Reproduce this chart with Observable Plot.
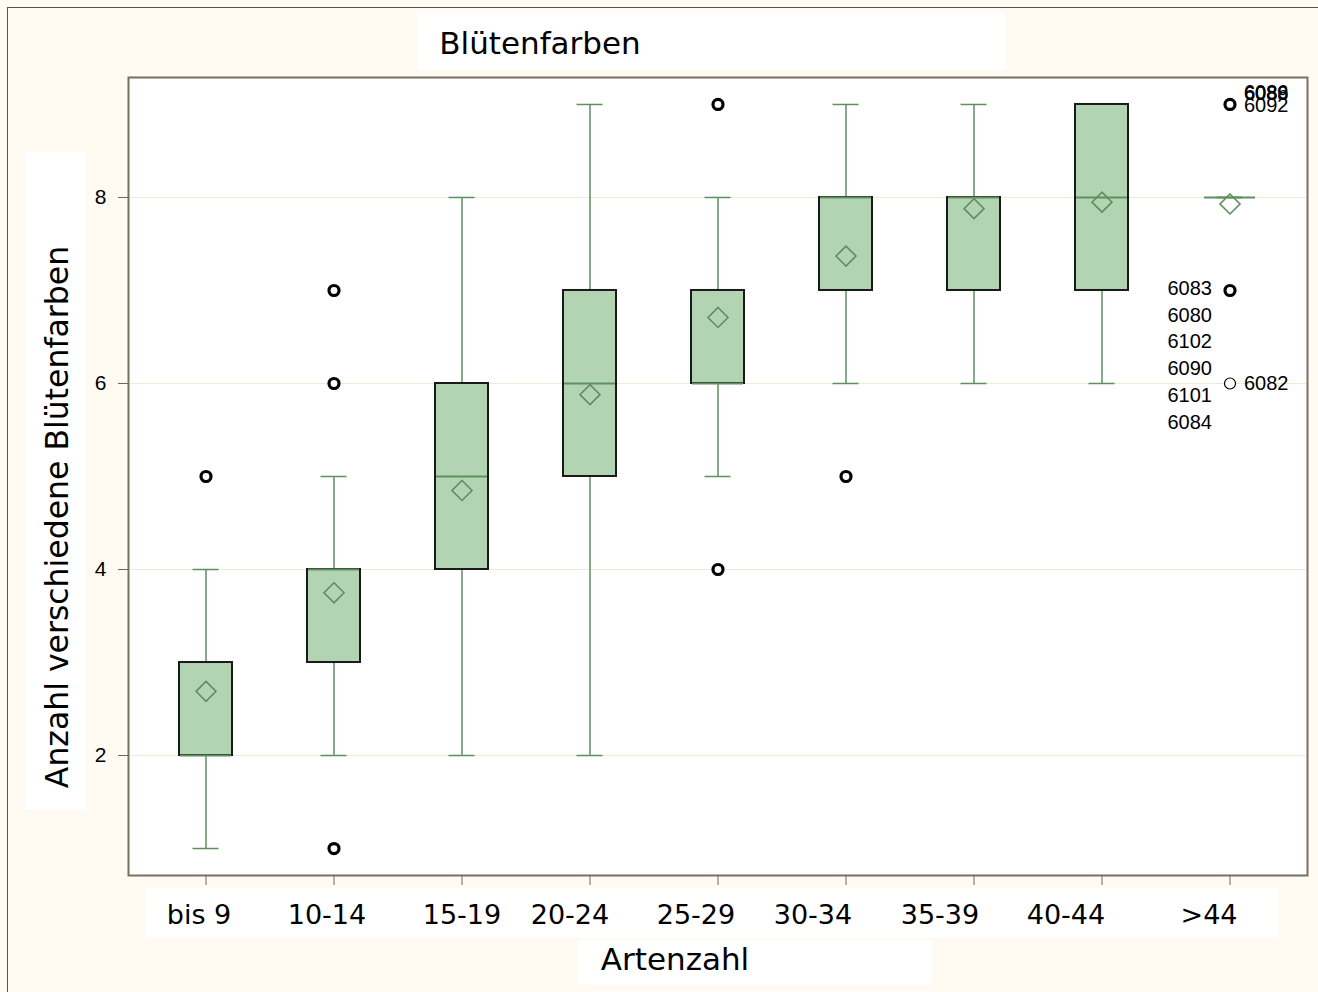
<!DOCTYPE html>
<html>
<head>
<meta charset="utf-8">
<script src="https://cdn.jsdelivr.net/npm/d3@7"></script>
<script src="https://cdn.jsdelivr.net/npm/@observablehq/plot@0.6"></script>
<style>
  html, body { margin: 0; padding: 0; background: #fffbf3; }
  #wrap { position: relative; width: 1318px; height: 992px; background: #fffbf3; overflow: hidden; }
  #border { position: absolute; left: 7px; top: 7px; right: -5px; bottom: -5px; border-left: 1px solid #555; border-top: 1px solid #555; }
  .box { position: absolute; background: #ffffff; }
  .lbl { position: absolute; font-family: "DejaVu Sans", sans-serif; color: #000; white-space: nowrap; }
  #chart { position: absolute; left: 0; top: 0; }
</style>
</head>
<body>
<div id="wrap">
  <div id="border"></div>
  <div class="box" style="left:418px;top:13px;width:587px;height:57px;"></div>
  <div class="box" style="left:25px;top:152px;width:60px;height:658px;"></div>
  <div class="box" style="left:146px;top:888px;width:1132px;height:50px;"></div>
  <div class="box" style="left:578px;top:940px;width:354px;height:45px;"></div>
  <div id="chart"></div>
  <div class="lbl" style="left:540px;top:43px;font-size:31px;transform:translate(-50%,-50%);">Blütenfarben</div>
  <div class="lbl" style="left:675px;top:959px;font-size:31px;transform:translate(-50%,-50%);">Artenzahl</div>
  <div class="lbl" style="left:57px;top:517px;font-size:31.5px;transform:translate(-50%,-50%) rotate(-90deg);">Anzahl verschiedene Blütenfarben</div>
</div>
<script>
const categories = ["bis 9","10-14","15-19","20-24","25-29","30-34","35-39","40-44",">44"];
const whiskerLow  = [1, 2, 2, 2, 5, 6, 6, 6, 8];
const quartile1   = [2, 3, 4, 5, 6, 7, 7, 7, 8];
const medians     = [2, 4, 5, 6, 6, 8, 8, 8, 8];
const quartile3   = [3, 4, 6, 7, 7, 8, 8, 9, 8];
const whiskerHigh = [4, 5, 8, 9, 8, 9, 9, 9, 8];
const means       = [2.69, 3.75, 4.85, 5.88, 6.71, 7.37, 7.88, 7.95, 7.93];

const outlierCat   = ["bis 9","10-14","10-14","10-14","25-29","25-29","30-34",">44",">44",">44"];
const outlierVal   = [5, 7, 6, 1, 9, 4, 5, 9, 7, 6];
const outlierMulti = [true, true, true, true, true, true, true, true, true, false];

const idsAt9 = ["6092","6088","6086","6089"];
const idsAt7 = ["6083","6080","6102","6090","6101","6084"];
const idsAt6 = ["6082"];
const yTicks = [2, 4, 6, 8];

const boxes = categories.map((c, i) => ({
  cat: c, lo: whiskerLow[i], q1: quartile1[i], med: medians[i],
  q3: quartile3[i], hi: whiskerHigh[i], mean: means[i]
}));
const outliers = outlierCat.map((c, i) => ({cat: c, v: outlierVal[i], multi: outlierMulti[i]}));

// layout: label offsets (pixels), as the original renderer placed them
const xLabelShift = [-7, -7, 0, -20, -22, -33, -34, -36, -21];
const labelFont = "Liberation Sans, Arial, sans-serif";
const green = "#5e8f5e";
const fillGreen = "#b3d4b3";

const idMarks = [
  ...idsAt9.map((id, i) => Plot.text([{cat: ">44", v: 9, id}], {x: "cat", y: "v", text: "id", dx: 14, dy: i === 0 ? 1 : -12 + (i % 2), textAnchor: "start", fontSize: 20, fontFamily: labelFont, fill: "#000"})),
  ...idsAt7.map((id, i) => Plot.text([{cat: ">44", v: 7, id}], {x: "cat", y: "v", text: "id", dx: -18, dy: -2 + i * 26.8, textAnchor: "end", fontSize: 20, fontFamily: labelFont, fill: "#000"})),
  ...idsAt6.map(id => Plot.text([{cat: ">44", v: 6, id}], {x: "cat", y: "v", text: "id", dx: 14, textAnchor: "start", fontSize: 20, fontFamily: labelFont, fill: "#000"}))
];
const xLabelMarks = categories.map((c, i) => Plot.axisX([c], {tickSize: 0, tickPadding: 29, fontSize: 27, fontFamily: "DejaVu Sans, sans-serif", fill: "#000", dx: xLabelShift[i], label: null}));

const plot = Plot.plot({
  width: 1318,
  height: 992,
  marginLeft: 128,
  marginRight: 11,
  marginTop: 77,
  marginBottom: 117,
  style: {background: "transparent", overflow: "visible"},
  x: {domain: categories, paddingInner: 0.587, paddingOuter: 0.394, label: null},
  y: {domain: [0.71, 9.29], label: null},
  marks: [
    Plot.frame({fill: "white", stroke: "none"}),
    Plot.ruleY(yTicks, {stroke: "#ecebd6", strokeWidth: 1}),
    Plot.ruleX(boxes, {x: "cat", y1: "lo", y2: "hi", stroke: green, strokeWidth: 1.5}),
    Plot.tickY(boxes, {x: "cat", y: "lo", stroke: green, strokeWidth: 1.5, insetLeft: 13.5, insetRight: 13.5}),
    Plot.tickY(boxes, {x: "cat", y: "hi", stroke: green, strokeWidth: 1.5, insetLeft: 13.5, insetRight: 13.5}),
    Plot.barY(boxes, {x: "cat", y1: "q1", y2: "q3", fill: fillGreen, stroke: "#1a1a1a", strokeWidth: 2}),
    Plot.tickY(boxes, {x: "cat", y: "med", stroke: green, strokeWidth: 1.8, insetLeft: 1, insetRight: 1}),
    Plot.dot(boxes, {x: "cat", y: "mean", symbol: "diamond2", r: 9, stroke: green, strokeWidth: 1.6, fill: "none"}),
    Plot.dot(outliers.filter(d => d.multi), {x: "cat", y: "v", r: 5, stroke: "#000", strokeWidth: 3.2, fill: "white"}),
    Plot.dot(outliers.filter(d => !d.multi), {x: "cat", y: "v", r: 5.5, stroke: "#000", strokeWidth: 1.2, fill: "white"}),
    ...idMarks,
    Plot.frame({stroke: "#77715f", strokeWidth: 2}),
    Plot.axisY(yTicks, {tickSize: 10, tickPadding: 12, tickFormat: d3.format("d"), fontSize: 21, fontFamily: labelFont, stroke: "#6d675b", fill: "#000", label: null}),
    Plot.axisX({tickSize: 10, tickFormat: () => "", stroke: "#6d675b", label: null}),
    ...xLabelMarks
  ]
});
document.getElementById("chart").appendChild(plot);
</script>
</body>
</html>
